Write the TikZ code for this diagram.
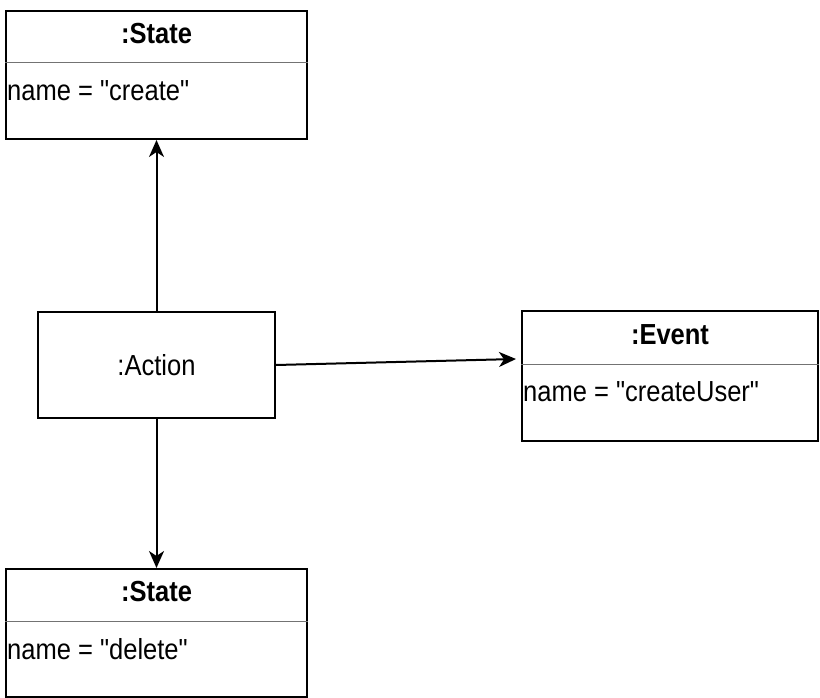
\documentclass[tikz,border=0pt]{standalone}
\usepackage{fontspec}
\setmainfont{Liberation Sans}[FakeStretch=0.88,Ligatures=TeXOff]
\usetikzlibrary{arrows.meta,positioning}
\begin{document}
\begin{tikzpicture}[x=1pt,y=-1pt,
  objbox/.style={draw,line width=2pt,rectangle,inner sep=0pt},
  classbox/.style={objbox,minimum width=301pt,minimum height=128pt},
  ttl/.style={anchor=base,font=\fontsize{29}{31}\selectfont\bfseries,inner sep=0pt},
  attr/.style={anchor=base west,font=\fontsize{29}{31}\selectfont,inner sep=0pt},
  sep/.style={line width=0.9pt,black!55},
  link/.style={line width=2pt,-{Stealth[length=17pt,width=15pt,inset=5pt]}}]
\useasboundingbox (0,0) rectangle (820,698);
\node[classbox] (stateA) at (156.5,75) {};
\node[classbox] (stateB) at (156.5,633) {};
\node[classbox,minimum width=296pt,minimum height=130pt] (event) at (670,376) {};
\node[objbox,minimum width=237pt,minimum height=106pt,font=\fontsize{29}{31}\selectfont] (action) at (156.5,365) {:Action};
\node[ttl] (stateAttl) at ([yshift=-33.5pt]stateA.north) {:State};
\node[ttl] (stateBttl) at ([yshift=-33.5pt]stateB.north) {:State};
\node[ttl] (eventttl) at ([yshift=-34pt]event.north) {:Event};
\draw[sep] ([yshift=-52pt]stateA.north west) -- ([yshift=-52pt]stateA.north east);
\draw[sep] ([yshift=-53pt]stateB.north west) -- ([yshift=-53pt]stateB.north east);
\draw[sep] ([yshift=-54pt]event.north west) -- ([yshift=-54pt]event.north east);
\node[attr] (stateAattr) at ([shift={(2pt,-91pt)}]stateA.north west) {name = "create"};
\node[attr] (stateBattr) at ([shift={(2pt,-91pt)}]stateB.north west) {name = "delete"};
\node[attr] (eventattr) at ([shift={(2pt,-91pt)}]event.north west) {name = "createUser"};
\draw[link] (action.north) -- (stateA.south);
\draw[link] (action.south) -- (stateB.north);
\draw[link] (action.east) -- ([shift={(-5pt,17pt)}]event.west);
\end{tikzpicture}
\end{document}
